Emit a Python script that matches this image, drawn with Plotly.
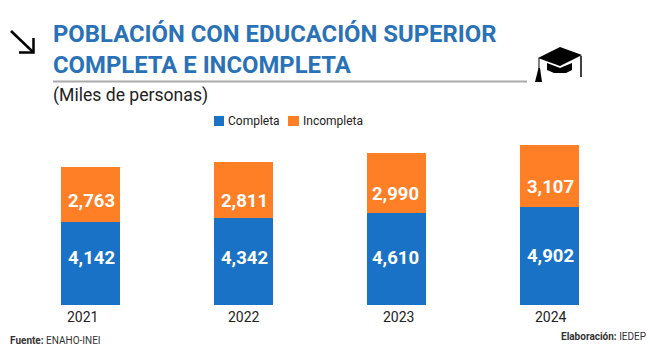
import plotly.graph_objects as go

years = ["2021", "2022", "2023", "2024"]
completa = [4142, 4342, 4610, 4902]
incompleta = [2763, 2811, 2990, 3107]

BLUE = "#1a72c7"
ORANGE = "#ff7f27"
TITLE = "#2a72b8"
W, H = 650, 354
FONT = "Roboto"


def px(x):
    return x / W


def py(y):
    return 1 - y / H


def path(points, close=True):
    s = "M " + " L ".join(f"{px(x):.5f},{py(y):.5f}" for x, y in points)
    return s + (" Z" if close else "")


fig = go.Figure()
fig.add_bar(x=years, y=completa, name="Completa", marker_color=BLUE, marker_line_width=0)
fig.add_bar(x=years, y=incompleta, name="Incompleta", marker_color=ORANGE, marker_line_width=0)

ann = []


def text(x, y, t, size, color="#222", anchor="left", **kw):
    ann.append(dict(xref="paper", yref="paper", x=px(x), y=py(y), text=t, showarrow=False,
                    xanchor=anchor, yanchor="middle", xshift=0, font=dict(family=FONT, size=size, color=color),
                    **kw))


text(51, 34, "<b>POBLACIÓN CON EDUCACIÓN SUPERIOR</b>", 23.85, TITLE)
text(51, 65, "<b>COMPLETA E INCOMPLETA</b>", 23.85, TITLE)
text(51, 96, "(Miles de personas)", 17.6, "#222")
text(8, 340, "<b>Fuente:</b> ENAHO-INEI", 10, "#333")
text(648, 336, "<b>Elaboración:</b> IEDEP", 10, "#333", anchor="right")
text(226, 121, "Completa", 12, "#222")
text(301, 121, "Incompleta", 12, "#222")

# value labels, offset from the segment centres as in the source
shift_c = [5.6, 3.6, 1, 0]
shift_i = [-6.4, -11.4, -11, -11]
xs = [1, 0.5, -1.5, 0.5]
for i, yr in enumerate(years):
    ann.append(dict(x=i, y=completa[i] / 2, xref="x", yref="y", text=f"<b>{completa[i]:,}</b>", showarrow=False,
                    yshift=shift_c[i], xshift=xs[i], font=dict(family=FONT, size=18.5, color="white")))
    ann.append(dict(x=i, y=completa[i] + incompleta[i] / 2, xref="x", yref="y", text=f"<b>{incompleta[i]:,}</b>",
                    showarrow=False, yshift=shift_i[i], xshift=xs[i], font=dict(family=FONT, size=18.5, color="white")))

tick_shift = [-8, 0, 2, 1]
for i, (yr, s) in enumerate(zip(years, tick_shift)):
    ann.append(dict(x=i, y=0, xref="x", yref="y", text=yr, showarrow=False, yanchor="top", yshift=-2, xshift=s,
                    font=dict(family=FONT, size=14, color="#222")))

shapes = [
    dict(type="line", xref="paper", yref="paper", x0=px(53), x1=px(527), y0=py(81.5), y1=py(81.5),
         line=dict(color="#aaaaaa", width=2)),
    # legend swatches
    dict(type="rect", xref="paper", yref="paper", x0=px(214), x1=px(224), y0=py(126), y1=py(116),
         fillcolor=BLUE, line=dict(width=0)),
    dict(type="rect", xref="paper", yref="paper", x0=px(288), x1=px(299), y0=py(126), y1=py(116),
         fillcolor=ORANGE, line=dict(width=0)),
    # arrow
    dict(type="path", xref="paper", yref="paper", path=path([(11, 31), (33, 52)], False), line=dict(color="#000", width=2.5)),
    dict(type="path", xref="paper", yref="paper", path=path([(19, 52.5), (33.5, 52.5), (33.5, 38)], False), line=dict(color="#000", width=2.5)),
    # mortarboard
    dict(type="path", xref="paper", yref="paper", path=path([(560, 47), (582, 55), (560, 66), (538, 58)]),
         fillcolor="#000", line=dict(width=0)),
    dict(type="path", xref="paper", yref="paper", path=path([(547, 63), (560, 68), (572, 63), (572, 70), (566, 73), (554, 73), (547, 70)]),
         fillcolor="#000", line=dict(width=0)),
    dict(type="path", xref="paper", yref="paper", path=path([(539, 58), (539, 69)], False), line=dict(color="#000", width=1)),
    dict(type="path", xref="paper", yref="paper", path=path([(538.5, 68), (540, 68), (542, 82), (535, 82)]),
         fillcolor="#000", line=dict(width=0)),
    dict(type="path", xref="paper", yref="paper", path=path([(581, 56), (581, 77)], False), line=dict(color="#000", width=1.5)),
]

fig.update_layout(
    width=W, height=H, autosize=False, margin=dict(l=0, r=0, t=0, b=0),
    paper_bgcolor="white", plot_bgcolor="white", barmode="stack", bargap=0.608,
    font=dict(family=FONT), showlegend=False,
    xaxis=dict(domain=[px(14), px(626)], range=[-0.5, 3.5], showticklabels=False, showgrid=False, zeroline=False,
               showline=False, ticks="", type="category"),
    yaxis=dict(domain=[py(305), py(130)], range=[0, 8750], visible=False),
    annotations=ann, shapes=shapes,
)
fig.write_html("out.html", config={"displayModeBar": False},
               post_script="document.body.style.margin='0';")
